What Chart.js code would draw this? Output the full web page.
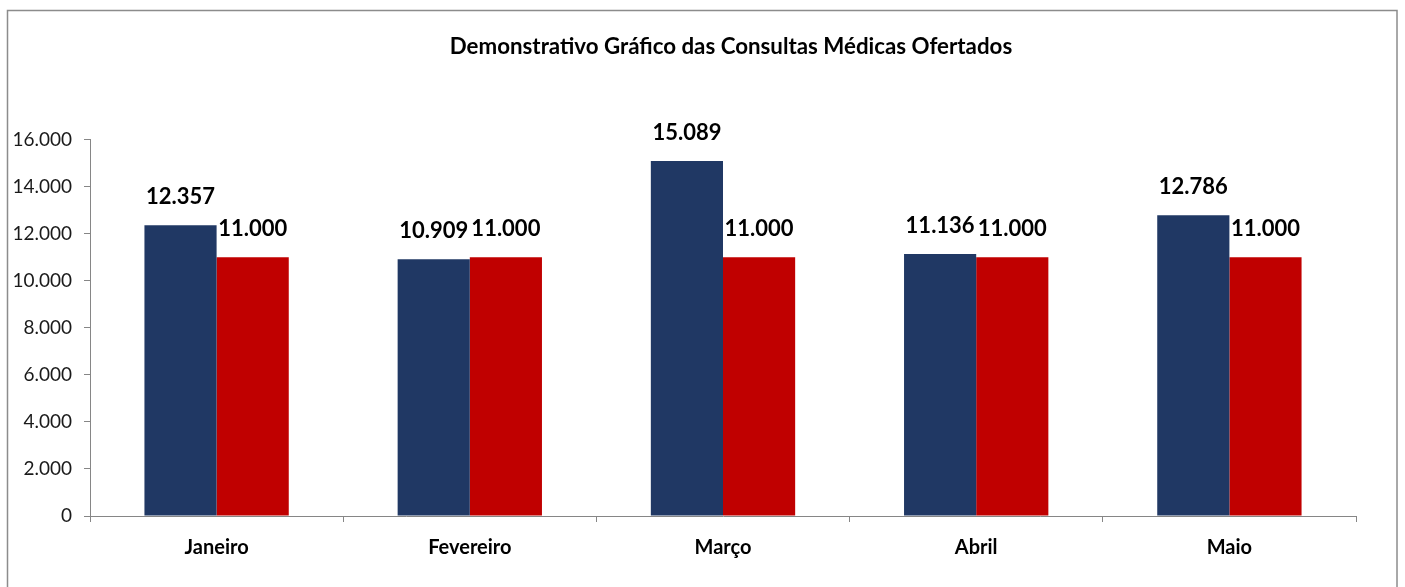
<!DOCTYPE html>
<html>
<head>
<meta charset="utf-8">
<script src="https://cdn.jsdelivr.net/npm/chart.js@4.4.1/dist/chart.umd.min.js"></script>
<style>
  html, body { margin: 0; padding: 0; background: #fff; }
  #wrap { width: 1405px; height: 587px; }
</style>
</head>
<body>
<div id="wrap"><canvas id="chart"></canvas></div>
<script>
// Consultas médicas ofertadas por mês
const chartTitle = 'Demonstrativo Gráfico das Consultas Médicas Ofertados';
const months = ['Janeiro', 'Fevereiro', 'Março', 'Abril', 'Maio'];
const realizadas = [12357, 10909, 15089, 11136, 12786];
const ofertadas = [11000, 11000, 11000, 11000, 11000];
const yTicks = [0, 2000, 4000, 6000, 8000, 10000, 12000, 14000, 16000];

const FONT = 'Lato, "Open Sans", sans-serif';

function fmt(n) {
  return String(n).replace(/\B(?=(\d{3})+(?!\d))/g, '.');
}

// frame around the whole chart + title (title sits off-centre in the original)
const frame = {
  id: 'frame',
  beforeDraw(chart) {
    const c = chart.ctx;
    c.save();
    c.fillStyle = '#fff';
    c.fillRect(0, 0, chart.width, chart.height);
    c.strokeStyle = '#8c8c8c';
    c.lineWidth = 1.5;
    c.strokeRect(7.5, 10.5, 1389.5, 600);
    c.font = 'bold 22.3px ' + FONT;
    c.fillStyle = '#000';
    c.textAlign = 'center';
    c.textBaseline = 'middle';
    c.fillText(chartTitle, 731, 47);
    c.restore();
  }
};

// value labels above each bar
const barLabels = {
  id: 'barLabels',
  afterDatasetsDraw(chart) {
    const c = chart.ctx;
    c.save();
    c.font = 'bold 22px ' + FONT;
    c.fillStyle = '#000';
    c.textAlign = 'center';
    c.textBaseline = 'middle';
    chart.data.datasets.forEach((ds, i) => {
      chart.getDatasetMeta(i).data.forEach((bar, j) => {
        c.fillText(fmt(ds.data[j]), bar.x, bar.y - 28);
      });
    });
    c.restore();
  }
};

new Chart(document.getElementById('chart'), {
  type: 'bar',
  data: {
    labels: months,
    datasets: [
      { label: 'Realizadas', data: realizadas, backgroundColor: '#203864' },
      { label: 'Ofertadas', data: ofertadas, backgroundColor: '#c00000' }
    ]
  },
  options: {
    responsive: true,
    maintainAspectRatio: false,
    animation: false,
    layout: { padding: { left: 0, right: 49, top: 139.5, bottom: 0 } },
    categoryPercentage: 0.57,
    barPercentage: 1.0,
    plugins: {
      legend: { display: false },
      tooltip: { enabled: false },
      title: { display: false }
    },
    scales: {
      x: {
        grid: { display: true, drawOnChartArea: false, tickLength: 6, color: '#868686' },
        border: { color: '#868686', width: 1 },
        ticks: {
          color: '#000',
          padding: 14,
          font: { family: FONT, size: 20, weight: 'bold' }
        },
        afterFit(scale) { scale.height = 71; }
      },
      y: {
        min: 0,
        max: 16000,
        afterBuildTicks(scale) { scale.ticks = yTicks.map(v => ({ value: v })); },
        grid: { display: true, drawOnChartArea: false, tickLength: 6, color: '#868686' },
        border: { color: '#868686', width: 1 },
        ticks: {
          color: '#1a1a1a',
          padding: 12,
          font: { family: FONT, size: 19 },
          callback: v => fmt(v)
        },
        afterFit(scale) { scale.width = 90; }
      }
    }
  },
  plugins: [frame, barLabels]
});
</script>
</body>
</html>
